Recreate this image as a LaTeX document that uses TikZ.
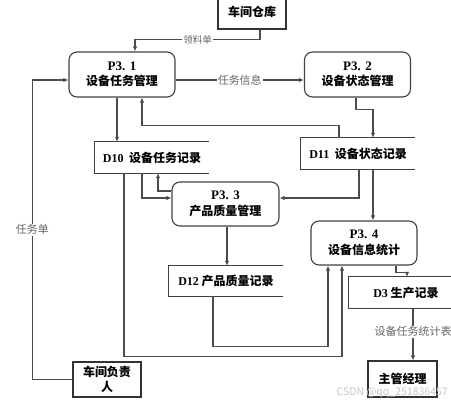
\documentclass[tikz,border=0pt]{standalone}
\usepackage{fontspec}
\setmainfont{Noto Sans CJK SC}
\newfontfamily\latin{Liberation Serif}
\usetikzlibrary{arrows.meta,calc,positioning}
\tikzset{
  proc/.style={draw=black!75,line width=1.1pt,rounded corners=8pt,inner sep=0pt,
    minimum width=106pt,minimum height=45pt,align=center,
    font=\fontsize{12}{15.5}\selectfont\bfseries},
  store/.style={inner sep=0pt,minimum width=114pt,minimum height=31pt,
    font=\fontsize{12}{14}\selectfont\bfseries},
  storeline/.style={draw=black!75,line width=1.1pt},
  ext/.style={draw=black!80,line width=1.1pt,inner sep=0pt,align=center,
    font=\fontsize{12}{15}\selectfont\bfseries},
  flow/.style={draw=black!70,line width=1.1pt,-{Latex[length=5pt,width=4.5pt]}},
  lbl/.style={fill=white,inner sep=1pt,text=black!60,font=\fontsize{11}{13}\selectfont},
}
\begin{document}
\begin{tikzpicture}[x=1pt,y=-1pt]
  \useasboundingbox (0,0) rectangle (451,404);
  % external entities
  \node[ext,minimum width=68pt,minimum height=34pt] (ws) at (252,12) {车间仓库};
  \node[ext,minimum width=68pt,minimum height=35pt] (fm) at (107,379.5) {车间负责\\人};
  \node[ext,minimum width=69pt,minimum height=36pt] (mgr) at (402.5,379) {主管经理};
  % processes
  \node[proc] (p31) at (122,74.5) {{\latin\fontsize{13}{15.5}\selectfont P3. 1}\\设备任务管理};
  \node[proc] (p32) at (357.5,74.5) {{\latin\fontsize{13}{15.5}\selectfont P3. 2}\\设备状态管理};
  \node[proc,minimum width=107pt,minimum height=44pt] (p33) at (225.5,204) {{\latin\fontsize{13}{15.5}\selectfont P3. 3}\\产品质量管理};
  \node[proc,minimum height=44pt] (p34) at (364,243) {{\latin\fontsize{13}{15.5}\selectfont P3. 4}\\设备信息统计};
  % data stores
  \node[store] (d10) at (152,157.5) {{\latin D10}\ \ 设备任务记录};
  \node[store] (d11) at (358,153.5) {{\latin D11}\ \ 设备状态记录};
  \node[store,minimum height=30pt] (d12) at (226,281) {{\latin D12} 产品质量记录};
  \node[store] (d3) at (406,292.5) {{\latin D3} 生产记录};
  \foreach \s in {d10,d11,d12,d3}
    \draw[storeline] (\s.north east) -- (\s.north west) -- (\s.south west) -- (\s.south east);
  % flows
  \draw[flow] ([xshift=8pt]ws.south) -- ++(0,10) -| ([xshift=13pt]p31.north)
    node[pos=0.25,lbl,font=\fontsize{9.5}{11}\selectfont] {领料单};
  \draw[flow] ([yshift=-5.5pt]p31.east) -- ([yshift=-5.5pt]p32.west)
    node[midway,lbl] {任务信息};
  \draw[flow] (fm.west) -- ++(-40,0) |- ([yshift=-5.5pt]p31.west)
    node[pos=0.25,lbl] {任务单};
  \draw[flow] ([xshift=-5pt]p31.south) -- ([xshift=-5pt]p31.south |- d10.north);
  \draw[flow] ([xshift=-19pt]d11.north) -- ++(0,-12) -| ([xshift=20pt]p31.south);
  \draw[flow] ([xshift=-1.5pt]p32.south) -- ++(0,12) -| ([xshift=15pt]d11.north);
  \draw[flow] ([xshift=-10pt]d10.south) |- ([yshift=6pt]p33.west);
  \draw[flow] ([yshift=13pt]p33.west) -| ([xshift=6pt]d10.south);
  \draw[flow] ([xshift=1pt]d11.south) |- ([yshift=6pt]p33.east);
  \draw[flow] ([xshift=15pt]d11.south) -- ([xshift=15pt]d11.south |- p34.north);
  \draw[flow] ([xshift=1.5pt]p33.south) -- ([xshift=1.5pt]p33.south |- d12.north);
  \draw[flow] ([xshift=-13pt]d12.south) -- ++(0,50) -| ([xshift=-36pt]p34.south);
  \draw[flow] ([xshift=-28pt]d10.south) -- ++(0,183) -| ([xshift=-22pt]p34.south);
  \draw[flow] ([xshift=32pt]p34.south) -- ++(0,7) -| ([xshift=1pt]d3.north);
  \draw[flow] ([xshift=7pt]d3.south) -- ([xshift=7pt]d3.south |- mgr.north)
    node[pos=0.45,lbl] {设备任务统计表};
  % watermark
  \node[text=black!22,font=\fontsize{10.5}{12}\selectfont,anchor=east,inner sep=0pt] (wm) at (448,393) {CSDN @qq\_251836457};
\end{tikzpicture}
\end{document}
